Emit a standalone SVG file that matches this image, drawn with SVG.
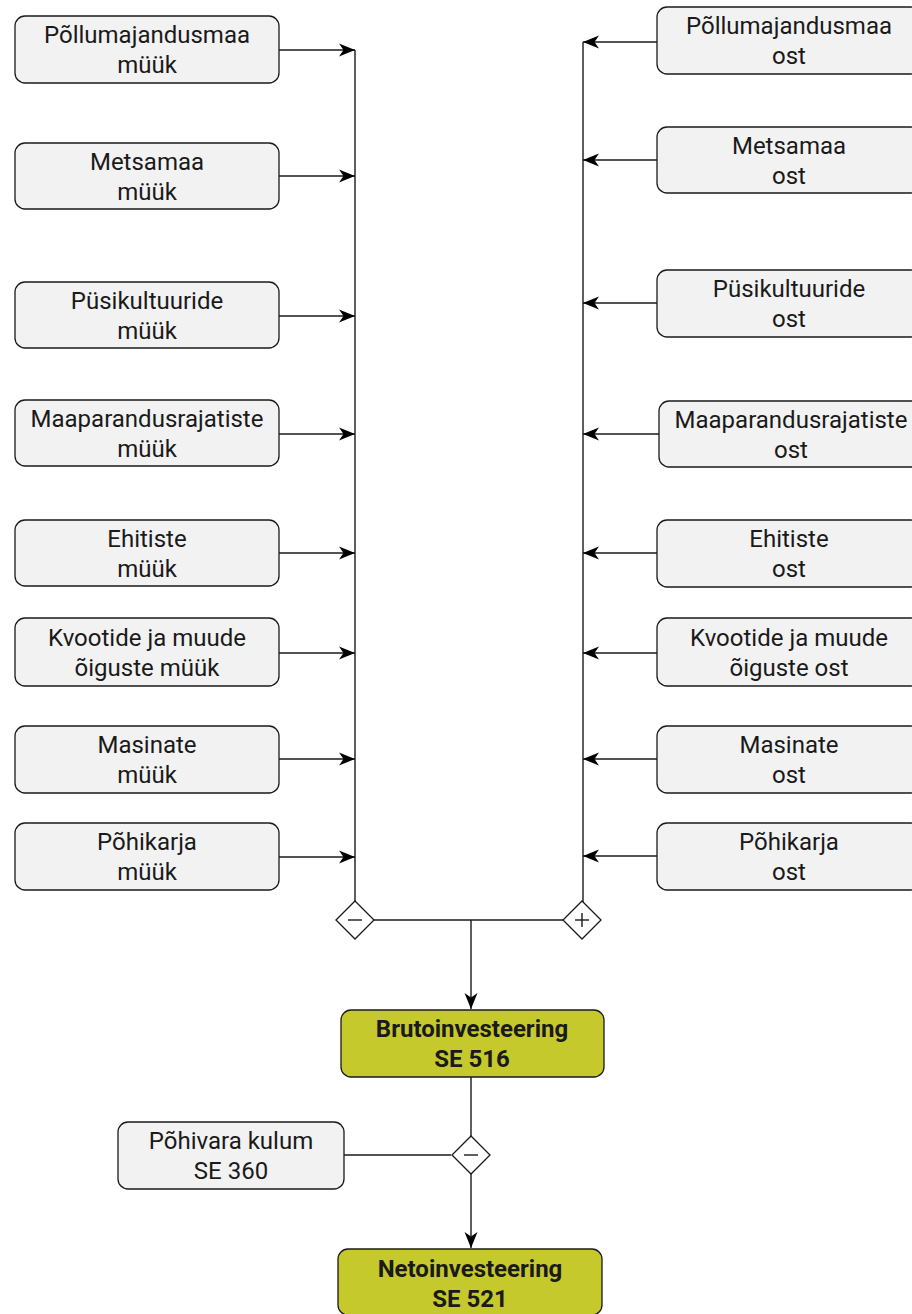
<svg xmlns="http://www.w3.org/2000/svg" width="912" height="1314" viewBox="0 0 912 1314">
<style>
.n{fill:#f2f2f2;stroke:#1a1a1a;stroke-width:1.3}
.g{fill:#c6c92b;stroke:#1a1a1a;stroke-width:1.3}
.t{font-family:Roboto,"Liberation Sans",sans-serif;font-size:24px;fill:#1a1a1a;text-anchor:middle}
.b{font-weight:bold}
.c{fill:none;stroke:#1a1a1a;stroke-width:1.4}
.a{marker-end:url(#ar)}
.d{fill:#fff;stroke:#1a1a1a;stroke-width:1.3}
</style>
<defs>
<marker id="ar" markerUnits="userSpaceOnUse" markerWidth="18" markerHeight="16" viewBox="0 0 18 16" refX="17" refY="8" orient="auto">
<path d="M1,1.5 L17,8 L1,14.5 L5.5,8 Z" fill="#000"/>
</marker>
</defs>
<rect width="912" height="1314" fill="#fff"/>
<g id="connectors">
<line class="c" x1="355" y1="50" x2="355" y2="901"/>
<line class="c" x1="583" y1="42" x2="583" y2="902"/>
<line class="c a" x1="279" y1="50" x2="355" y2="50"/>
<line class="c a" x1="279" y1="176" x2="355" y2="176"/>
<line class="c a" x1="279" y1="316" x2="355" y2="316"/>
<line class="c a" x1="279" y1="434" x2="355" y2="434"/>
<line class="c a" x1="279" y1="553" x2="355" y2="553"/>
<line class="c a" x1="279" y1="653" x2="355" y2="653"/>
<line class="c a" x1="279" y1="759" x2="355" y2="759"/>
<line class="c a" x1="279" y1="857" x2="355" y2="857"/>
<line class="c a" x1="657" y1="42" x2="583" y2="42"/>
<line class="c a" x1="657" y1="160" x2="583" y2="160"/>
<line class="c a" x1="657" y1="303" x2="583" y2="303"/>
<line class="c a" x1="659" y1="434" x2="583" y2="434"/>
<line class="c a" x1="657" y1="553" x2="583" y2="553"/>
<line class="c a" x1="657" y1="653" x2="583" y2="653"/>
<line class="c a" x1="657" y1="759" x2="583" y2="759"/>
<line class="c a" x1="657" y1="856" x2="583" y2="856"/>
<line class="c" x1="374" y1="920" x2="563" y2="920"/>
<line class="c a" x1="471" y1="920" x2="471" y2="1009"/>
<line class="c" x1="471" y1="1077" x2="471" y2="1136"/>
<line class="c" x1="344" y1="1155" x2="451" y2="1155"/>
<line class="c a" x1="471" y1="1173" x2="471" y2="1248"/>
</g>
<g id="minus1"><polygon class="d" points="355,901 374,920 355,939 336,920"/><line class="c" x1="348" y1="920" x2="362" y2="920"/></g>
<g id="plus1"><polygon class="d" points="582,901 601,920 582,939 563,920"/><line class="c" x1="575" y1="920" x2="589" y2="920"/><line class="c" x1="582" y1="913" x2="582" y2="927"/></g>
<g id="minus2"><polygon class="d" points="471,1136 490,1155 471,1174 452,1155"/><line class="c" x1="464" y1="1155" x2="478" y2="1155"/></g>

<g id="l1"><rect class="n" x="15" y="16" width="264" height="67" rx="10"/><text class="t" x="147" y="43">Põllumajandusmaa</text><text class="t" x="147" y="73">müük</text></g>
<g id="l2"><rect class="n" x="15" y="143" width="264" height="66" rx="10"/><text class="t" x="147" y="170">Metsamaa</text><text class="t" x="147" y="200">müük</text></g>
<g id="l3"><rect class="n" x="15" y="282" width="264" height="66" rx="10"/><text class="t" x="147" y="309">Püsikultuuride</text><text class="t" x="147" y="339">müük</text></g>
<g id="l4"><rect class="n" x="15" y="400" width="264" height="66" rx="10"/><text class="t" x="147" y="427">Maaparandusrajatiste</text><text class="t" x="147" y="457">müük</text></g>
<g id="l5"><rect class="n" x="15" y="520" width="264" height="66" rx="10"/><text class="t" x="147" y="547">Ehitiste</text><text class="t" x="147" y="577">müük</text></g>
<g id="l6"><rect class="n" x="15" y="618" width="264" height="68" rx="10"/><text class="t" x="147" y="646">Kvootide ja muude</text><text class="t" x="147" y="676">õiguste müük</text></g>
<g id="l7"><rect class="n" x="15" y="726" width="264" height="67" rx="10"/><text class="t" x="147" y="753">Masinate</text><text class="t" x="147" y="783">müük</text></g>
<g id="l8"><rect class="n" x="15" y="823" width="264" height="67" rx="10"/><text class="t" x="147" y="850">Põhikarja</text><text class="t" x="147" y="880">müük</text></g>

<g id="r1"><rect class="n" x="657" y="7" width="264" height="67" rx="10"/><text class="t" x="789" y="34">Põllumajandusmaa</text><text class="t" x="789" y="64">ost</text></g>
<g id="r2"><rect class="n" x="657" y="127" width="264" height="66" rx="10"/><text class="t" x="789" y="154">Metsamaa</text><text class="t" x="789" y="184">ost</text></g>
<g id="r3"><rect class="n" x="657" y="270" width="264" height="67" rx="10"/><text class="t" x="789" y="297">Püsikultuuride</text><text class="t" x="789" y="327">ost</text></g>
<g id="r4"><rect class="n" x="659" y="401" width="264" height="66" rx="10"/><text class="t" x="791" y="428">Maaparandusrajatiste</text><text class="t" x="791" y="458">ost</text></g>
<g id="r5"><rect class="n" x="657" y="520" width="264" height="67" rx="10"/><text class="t" x="789" y="547">Ehitiste</text><text class="t" x="789" y="577">ost</text></g>
<g id="r6"><rect class="n" x="657" y="618" width="264" height="68" rx="10"/><text class="t" x="789" y="646">Kvootide ja muude</text><text class="t" x="789" y="676">õiguste ost</text></g>
<g id="r7"><rect class="n" x="657" y="726" width="264" height="67" rx="10"/><text class="t" x="789" y="753">Masinate</text><text class="t" x="789" y="783">ost</text></g>
<g id="r8"><rect class="n" x="657" y="823" width="264" height="67" rx="10"/><text class="t" x="789" y="850">Põhikarja</text><text class="t" x="789" y="880">ost</text></g>

<g id="bruto"><rect class="g" x="341" y="1010" width="263" height="67" rx="10"/><text class="t b" x="472" y="1037">Brutoinvesteering</text><text class="t b" x="472" y="1067">SE 516</text></g>
<g id="kulum"><rect class="n" x="118" y="1122" width="226" height="67" rx="10"/><text class="t" x="231" y="1149">Põhivara kulum</text><text class="t" x="231" y="1179">SE 360</text></g>
<g id="neto"><rect class="g" x="338" y="1249" width="264" height="66" rx="10"/><text class="t b" x="470" y="1277">Netoinvesteering</text><text class="t b" x="470" y="1307">SE 521</text></g>
</svg>
